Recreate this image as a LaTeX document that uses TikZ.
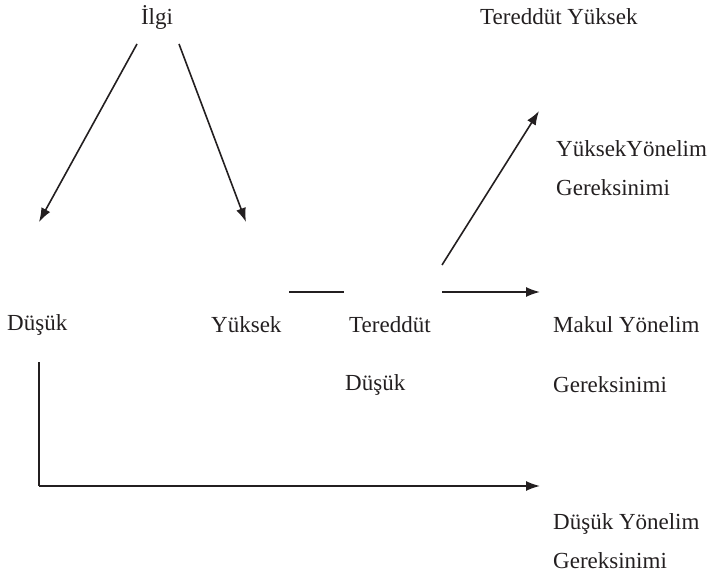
\documentclass[tikz,border=0pt]{standalone}
\usepackage{fontspec}
\setmainfont{Liberation Serif}
\usetikzlibrary{arrows.meta}
\definecolor{ink}{HTML}{231F20}
\begin{document}
\begin{tikzpicture}[x=1pt,y=-1pt,
  lbl/.style={anchor=west,inner sep=0pt,text=ink,font=\fontsize{23}{27}\selectfont},
  conn/.style={draw=ink,line width=1.6pt},
  arr/.style={conn,-{Latex[length=14pt,width=10pt]}}]
\useasboundingbox (0,0) rectangle (707,575);
% labels
\node[lbl,anchor=center] (ilgi) at (157,17) {İlgi};
\node[lbl] (tyuk) at (480,17) {Tereddüt Yüksek};
\node[lbl] (yy) at (556,149) {YüksekYönelim};
\node[lbl] (yyg) at (556,188) {Gereksinimi};
\node[lbl] (dus) at (7,325) {Düşük};
\node[lbl] (yuk) at (211,325) {Yüksek};
\node[lbl] (ter) at (349,325) {Tereddüt};
\node[lbl] (my) at (553,325) {Makul Yönelim};
\node[lbl] (tdus) at (345,385) {Düşük};
\node[lbl] (myg) at (553,385) {Gereksinimi};
\node[lbl] (dy) at (553,524) {Düşük Yönelim};
\node[lbl] (dyg) at (553,561) {Gereksinimi};
% connector end points
\coordinate (a1s) at (137,44);
\coordinate (a1e) at (39,222);
\coordinate (a2s) at (179,44);
\coordinate (a2e) at (246,222);
\coordinate (ls) at (289,292);
\coordinate (le) at (344,292);
\coordinate (a3s) at (442,265);
\coordinate (a3e) at (539,111);
\coordinate (a4s) at (442,292);
\coordinate (a4e) at (540,292);
\coordinate (vs) at (39,362);
\coordinate (ve) at (39,486);
\coordinate (a5e) at (540,486);
% connectors
\draw[arr] (a1s) -- (a1e);
\draw[arr] (a2s) -- (a2e);
\draw[conn] (ls) -- (le);
\draw[arr] (a3s) -- (a3e);
\draw[arr] (a4s) -- (a4e);
\draw[conn] (vs) -- (ve);
\draw[arr] (ve) -- (a5e);
\end{tikzpicture}
\end{document}
